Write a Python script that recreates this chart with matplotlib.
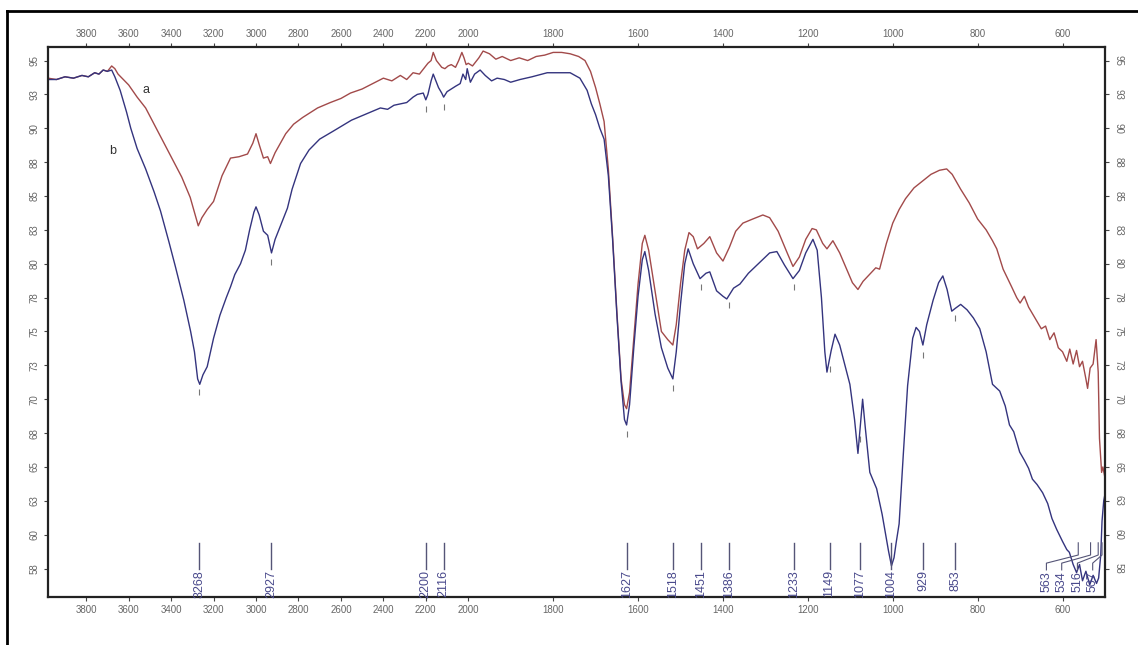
import numpy as np
import matplotlib
matplotlib.use("Agg")
import matplotlib.pyplot as plt
from matplotlib.lines import Line2D

plt.rcParams['font.family'] = ['Liberation Sans', 'DejaVu Sans']

# ---- data (wavenumber cm-1, %T) ----
wn_a = [3980, 3940, 3900, 3860, 3820, 3790, 3760, 3740, 3720, 3700, 3680, 3665,
        3650, 3600, 3560, 3520, 3450, 3400, 3350, 3310, 3290, 3272, 3255, 3230,
        3200, 3160, 3120, 3080, 3040, 3015, 3000, 2985, 2965, 2945, 2932, 2910,
        2885, 2860, 2823, 2780, 2710, 2650, 2600, 2555, 2500, 2450, 2400, 2360,
        2320, 2290, 2260, 2230, 2210, 2190, 2175, 2165, 2150, 2140, 2125, 2110,
        2095, 2080, 2060, 2045, 2030, 2020, 2010, 2000, 1990, 1975, 1965, 1950,
        1935, 1920, 1900, 1880, 1860, 1840, 1820, 1800, 1780, 1760, 1740, 1725,
        1712, 1700, 1690, 1680, 1670, 1660, 1650, 1640, 1632, 1627, 1620, 1610,
        1600, 1590, 1584, 1575, 1560, 1545, 1530, 1518, 1510, 1500, 1490, 1480,
        1470, 1460, 1445, 1431, 1415, 1400, 1385, 1370, 1353, 1330, 1306, 1290,
        1270, 1250, 1235, 1220, 1205, 1190, 1180, 1165, 1155, 1141, 1125, 1110,
        1095, 1082, 1070, 1055, 1040, 1031, 1015, 1000, 985, 970, 950, 930,
        910, 890, 873, 860, 840, 820, 800, 780, 765, 755, 740, 720,
        708, 700, 690, 680, 665, 650, 640, 630, 620, 610, 600, 590,
        583, 575, 567, 560, 553, 545, 541, 535, 528, 521, 516, 513,
        508, 505, 500]
t_a = [93.7, 93.6, 93.8, 93.7, 93.9, 93.8, 94.1, 94.0, 94.3, 94.2, 94.6, 94.4,
       94.0, 93.2, 92.3, 91.5, 89.4, 87.9, 86.4, 84.9, 83.8, 82.8, 83.4, 84.0,
       84.6, 86.5, 87.8, 87.9, 88.1, 88.9, 89.6, 88.8, 87.8, 87.9, 87.4, 88.2,
       88.9, 89.6, 90.3, 90.8, 91.5, 91.9, 92.2, 92.6, 92.9, 93.3, 93.7, 93.5,
       93.9, 93.6, 94.1, 94.0, 94.4, 94.8, 95.0, 95.6, 95.0, 94.8, 94.5, 94.4,
       94.6, 94.7, 94.5, 95.0, 95.6, 95.2, 94.7, 94.8, 94.6, 95.2, 95.7, 95.5,
       95.1, 95.3, 95.0, 95.2, 95.0, 95.3, 95.4, 95.6, 95.6, 95.5, 95.3, 95.0,
       94.2, 93.0, 91.8, 90.5, 87.0, 82.0, 76.5, 71.5, 69.6, 69.3, 70.5, 74.5,
       78.5, 81.5, 82.1, 81.0, 78.0, 75.0, 74.4, 74.0, 75.5, 78.5, 81.0, 82.3,
       82.0, 81.1, 81.5, 82.0, 80.8, 80.2, 81.2, 82.4, 83.0, 83.3, 83.6, 83.4,
       82.4, 80.9, 79.8, 80.5, 81.8, 82.6, 82.5, 81.5, 81.1, 81.7, 80.8, 79.7,
       78.6, 78.1, 78.7, 79.2, 79.7, 79.6, 81.5, 83.0, 84.0, 84.8, 85.6, 86.1,
       86.6, 86.9, 87.0, 86.6, 85.5, 84.5, 83.3, 82.5, 81.7, 81.1, 79.6, 78.3,
       77.5, 77.1, 77.6, 76.8, 76.0, 75.2, 75.4, 74.4, 74.9, 73.8, 73.5, 72.8,
       73.7, 72.6, 73.6, 72.4, 72.8, 71.5, 70.8, 72.3, 72.6, 74.4, 72.0, 67.1,
       64.6, 65.0, 64.2]

wn_b = [3980, 3940, 3900, 3860, 3820, 3790, 3760, 3740, 3720, 3700, 3680, 3665,
        3640, 3610, 3590, 3560, 3520, 3480, 3450, 3410, 3380, 3340, 3308, 3290,
        3275, 3265, 3250, 3230, 3200, 3170, 3140, 3120, 3100, 3073, 3050, 3030,
        3010, 3000, 2985, 2965, 2945, 2927, 2910, 2890, 2870, 2852, 2830, 2790,
        2750, 2700, 2635, 2550, 2475, 2414, 2380, 2350, 2320, 2290, 2260, 2240,
        2212, 2200, 2190, 2175, 2165, 2155, 2140, 2125, 2116, 2100, 2080, 2060,
        2038, 2025, 2012, 2005, 1995, 1985, 1972, 1960, 1945, 1932, 1915, 1900,
        1878, 1850, 1814, 1790, 1760, 1737, 1720, 1710, 1700, 1690, 1680, 1670,
        1660, 1650, 1640, 1632, 1627, 1620, 1610, 1600, 1590, 1584, 1575, 1560,
        1545, 1530, 1518, 1510, 1500, 1490, 1482, 1470, 1454, 1440, 1431, 1415,
        1400, 1391, 1375, 1360, 1340, 1310, 1290, 1273, 1255, 1235, 1220, 1205,
        1188, 1178, 1168, 1160, 1155, 1145, 1136, 1125, 1110, 1101, 1090, 1082,
        1075, 1071, 1065, 1054, 1038, 1025, 1010, 1003, 997, 992, 985, 975,
        965, 953, 945, 937, 929, 920, 905, 892, 882, 872, 861, 853,
        840, 825, 810, 795, 780, 765, 748, 735, 725, 715, 701, 690,
        680, 671, 660, 647, 635, 625, 614, 600, 590, 584, 575, 567,
        560, 553, 545, 536, 528, 520, 515, 510, 507, 503, 500]
t_b = [93.6, 93.6, 93.8, 93.7, 93.9, 93.8, 94.1, 94.0, 94.3, 94.2, 94.3, 93.8,
       92.8, 91.2, 90.0, 88.5, 87.0, 85.3, 83.9, 81.6, 79.8, 77.3, 75.0, 73.5,
       71.5, 71.1, 71.8, 72.4, 74.5, 76.2, 77.5, 78.3, 79.2, 80.0, 81.0, 82.5,
       83.8, 84.2, 83.6, 82.4, 82.1, 80.8, 81.8, 82.6, 83.4, 84.1, 85.5, 87.4,
       88.4, 89.2, 89.8, 90.6, 91.1, 91.5, 91.4, 91.7, 91.8, 91.9, 92.3, 92.5,
       92.6, 92.1, 92.5, 93.5, 94.0, 93.6, 93.0, 92.6, 92.3, 92.7, 92.9, 93.1,
       93.3, 94.0, 93.6, 94.4, 93.4, 94.0, 94.3, 93.9, 93.5, 93.7, 93.6, 93.4,
       93.6, 93.8, 94.1, 94.1, 94.1, 93.7, 92.8, 91.8, 91.0, 90.0, 89.2, 86.5,
       81.8, 76.3, 71.3, 68.5, 68.1, 69.6, 73.8, 77.6, 80.3, 80.9, 79.5, 76.3,
       73.8, 72.3, 71.5, 73.5, 77.0, 80.0, 81.1, 80.0, 78.9, 79.3, 79.4, 78.0,
       77.6, 77.4, 78.2, 78.5, 79.3, 80.2, 80.8, 80.9, 79.9, 78.9, 79.5, 80.8,
       81.8, 81.0, 77.5, 73.5, 72.0, 73.6, 74.8, 74.0, 72.2, 71.1, 68.5, 66.0,
       68.5, 70.0, 68.0, 64.6, 63.4, 61.5, 58.8, 57.7, 58.3, 59.4, 60.8, 66.0,
       71.0, 74.5, 75.3, 75.0, 74.0, 75.5, 77.3, 78.6, 79.1, 78.1, 76.5, 76.7,
       77.0, 76.6, 76.0, 75.2, 73.5, 71.1, 70.6, 69.5, 68.1, 67.6, 66.1, 65.5,
       64.9, 64.1, 63.7, 63.1, 62.3, 61.2, 60.4, 59.5, 58.9, 58.7, 57.8, 57.2,
       57.8, 56.6, 57.3, 56.3, 57.0, 56.4, 56.8, 58.5, 61.0, 62.5, 63.0]

peaks = [3268, 2927, 2200, 2116, 1627, 1518, 1451, 1386, 1233, 1149, 1077,
         1004, 929, 853]
crowded_peaks = [563, 534, 516, 507]
marked_peaks = [3268, 2927, 2200, 2116, 1627, 1518, 1451, 1386, 1233, 1149,
                1077, 929, 853]

x_ticks = [3800, 3600, 3400, 3200, 3000, 2800, 2600, 2400, 2200, 2000,
           1800, 1600, 1400, 1200, 1000, 800, 600]
y_ticks = np.arange(95, 57, -2.5)


# FTIR-style axis: region above 2000 cm-1 compressed by a factor 2
def fwd(x):
    x = np.asarray(x, dtype=float)
    return np.where(x > 2000, 2000 + (x - 2000) / 2, x)


def inv(t):
    t = np.asarray(t, dtype=float)
    return np.where(t > 2000, 2000 + (t - 2000) * 2, t)


fig = plt.figure(figsize=(11.38, 6.45), dpi=100)
ax = fig.add_axes([48 / 1138, 1 - 597 / 645, (1105 - 48) / 1138, (597 - 47) / 645])
ax.set_xscale('function', functions=(fwd, inv))

red = '#a24a4a'
blue = '#34347e'
ax.plot(wn_a, t_a, color=red, lw=1.0)
ax.plot(wn_b, t_b, color=blue, lw=1.0)

ax.set_xlim(3980, 500)
ax.set_ylim(55.4, 96.0)

# small peak markers under the curves
yb = np.interp(marked_peaks, wn_b[::-1], t_b[::-1])
ax.plot(marked_peaks, yb - 0.7, ls='none', marker='|', ms=4, color='#777777', mew=0.8)

# curve labels
ax.text(3520, 92.8, 'a', fontsize=9, color='#333333', ha='center', va='center')
ax.text(3675, 88.3, 'b', fontsize=9, color='#333333', ha='center', va='center')

lab_col = '#4a4a8c'
for p in peaks:
    ax.plot([p, p], [59.4, 57.5], color='#555577', lw=1.0)
    ax.text(p, 57.4, str(p), rotation=90, ha='center', va='top',
            fontsize=9, color=lab_col)

# crowded labels near the low end, spread out with bent leaders
crowded_lab_x = [638, 602, 565, 529]
for p, lx in zip(crowded_peaks, crowded_lab_x):
    ax.plot([lx, lx, p, p], [57.4, 57.9, 58.5, 59.4], color='#555577', lw=0.8)
    ax.text(lx, 57.3, str(p), rotation=90, ha='center', va='top',
            fontsize=9, color=lab_col)

# ticks and labels on all four sides
tick_col = '#666666'
ax.xaxis.set_minor_locator(matplotlib.ticker.NullLocator())
ax.set_xticks(x_ticks)
ax.set_xticklabels([str(v) for v in x_ticks], fontsize=7, color=tick_col)
ax.set_yticks(y_ticks)
ylabels = [str(int(np.floor(v + 0.5))) for v in y_ticks]
ax.set_yticklabels(ylabels, fontsize=7, color=tick_col, va='center')
ax.tick_params(direction='out', length=3, width=0.8, color='#444444', pad=3,
               top=True, labeltop=True, right=True, labelright=True)
for tk in ax.yaxis.get_major_ticks():
    tk.label1.set_rotation(90)
    tk.label2.set_rotation(-90)

for sp in ax.spines.values():
    sp.set_linewidth(1.6)
    sp.set_color('#222222')

# outer border of the picture (top and left)
fig.add_artist(Line2D([7 / 1138, 1.0], [1 - 11 / 645, 1 - 11 / 645],
                      transform=fig.transFigure, color='black', lw=2))
fig.add_artist(Line2D([7 / 1138, 7 / 1138], [0, 1 - 11 / 645],
                      transform=fig.transFigure, color='black', lw=2))

fig.savefig('out.png', dpi=100)
